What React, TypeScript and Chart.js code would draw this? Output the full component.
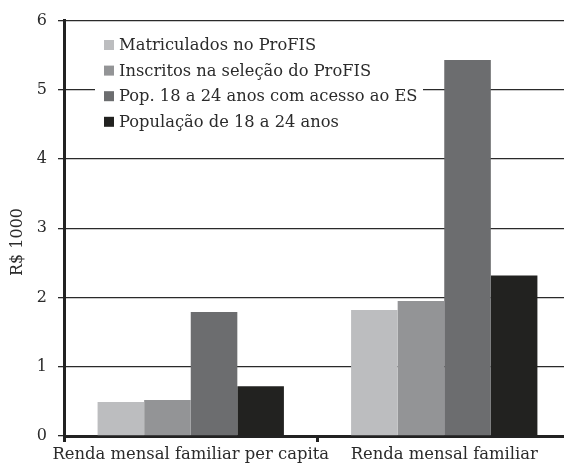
import React, { useEffect, useRef } from "react";
import { Chart, registerables } from "chart.js";

Chart.register(...registerables);

const categories = ["Renda mensal familiar per capita", "Renda mensal familiar"];
const seriesNames = [
  "Matriculados no ProFIS",
  "Inscritos na seleção do ProFIS",
  "Pop. 18 a 24 anos com acesso ao ES",
  "População de 18 a 24 anos",
];
const matriculados = [0.49, 1.82];
const inscritos = [0.52, 1.95];
const popAcessoES = [1.79, 5.43];
const populacao = [0.72, 2.32];
const seriesColors = ["#bcbdbf", "#939496", "#6c6d6f", "#222220"];
const yTicks = [0, 1, 2, 3, 4, 5, 6];
const yTitle = "R$ 1000";

const FONT = "'DejaVu Serif', serif";
const INK = "#2b2b2b";

const legendPlugin = {
  id: "insideLegend",
  beforeDatasetsDraw(chart: any) {
    const ctx = chart.ctx;
    ctx.save();
    ctx.fillStyle = "#ffffff";
    ctx.fillRect(95, 30, 328, 106);
    ctx.font = `16.3px ${FONT}`;
    ctx.textBaseline = "middle";
    ctx.textAlign = "left";
    chart.data.datasets.forEach((ds: any, i: number) => {
      const y = 45 + i * 25.6;
      ctx.fillStyle = ds.backgroundColor;
      ctx.fillRect(104, y - 5, 10, 10);
      ctx.fillStyle = INK;
      ctx.fillText(ds.label, 119, y + 1);
    });
    ctx.restore();
  },
};

const yTitlePlugin = {
  id: "yTitle",
  afterDraw(chart: any) {
    const ctx = chart.ctx;
    ctx.save();
    ctx.translate(18, 242);
    ctx.rotate(-Math.PI / 2);
    ctx.font = `16px ${FONT}`;
    ctx.fillStyle = INK;
    ctx.textAlign = "center";
    ctx.textBaseline = "middle";
    ctx.fillText(yTitle, 0, 0);
    ctx.restore();
  },
};

export default function App() {
  const ref = useRef<HTMLCanvasElement | null>(null);
  useEffect(() => {
    if (!ref.current) return;
    const values = [matriculados, inscritos, popAcessoES, populacao];
    const chart = new Chart(ref.current, {
      type: "bar",
      data: {
        labels: categories,
        datasets: seriesNames.map((name, i) => ({
          label: name,
          data: values[i],
          backgroundColor: seriesColors[i],
          borderWidth: 0,
          barPercentage: 1,
          categoryPercentage: 0.735,
        })),
      },
      options: {
        responsive: false,
        animation: false,
        devicePixelRatio: 1,
        layout: { padding: { top: 16, right: 9, left: 0, bottom: 0 } },
        plugins: {
          legend: { display: false },
          tooltip: { enabled: false },
        },
        scales: {
          x: {
            afterFit: (s: any) => {
              s.height = 29;
            },
            border: { display: true, color: "#222", width: 3 },
            grid: {
              offset: true,
              drawOnChartArea: false,
              drawTicks: true,
              tickLength: 6,
              color: "#222",
              lineWidth: 3,
            },
            ticks: {
              color: INK,
              font: { family: FONT, size: 16.4 },
              padding: 3,
              maxRotation: 0,
              autoSkip: false,
            },
          },
          y: {
            min: 0,
            max: 6,
            afterFit: (s: any) => {
              s.width = 64;
            },
            afterBuildTicks: (s: any) => {
              s.ticks = yTicks.map((v) => ({ value: v }));
            },
            border: { display: true, color: "#222", width: 3 },
            grid: {
              drawOnChartArea: true,
              drawTicks: true,
              tickLength: 6,
              color: "#2a2a2a",
              lineWidth: 1.3,
            },
            ticks: {
              color: INK,
              font: { family: FONT, size: 16 },
              padding: 11,
            },
          },
        },
      },
      plugins: [legendPlugin, yTitlePlugin],
    });
    return () => chart.destroy();
  }, []);
  return (
    <div
      style={{
        position: "absolute",
        left: 0,
        top: 0,
        width: 564,
        height: 465,
        overflow: "hidden",
        background: "#fff",
      }}
    >
      <canvas ref={ref} width={580} height={465} style={{ display: "block" }} />
    </div>
  );
}
